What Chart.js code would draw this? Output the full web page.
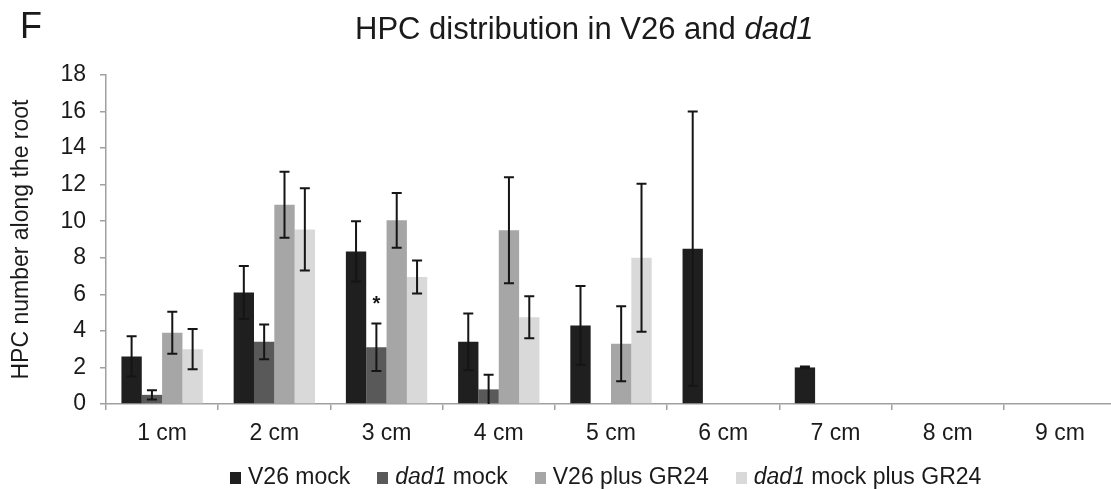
<!DOCTYPE html>
<html>
<head>
<meta charset="utf-8">
<script src="https://cdn.jsdelivr.net/npm/chart.js@4.4.1/dist/chart.umd.min.js"></script>
<style>
  html, body { margin: 0; padding: 0; background: #fff; overflow: hidden; }
  body { width: 1111px; height: 489px; position: relative; font-family: "Liberation Sans", Arial, sans-serif; color: #1a1a1a; }
  #wrap { position: absolute; left: 0; top: 0; width: 1120px; height: 489px; }
  #panel { position: absolute; left: 20px; top: 8px; font-size: 36px; line-height: 36px; }
  #title { position: absolute; left: 355px; top: 13px; font-size: 31px; line-height: 31px; white-space: nowrap; }
  #legend { position: absolute; left: 230px; top: 465px; display: flex; align-items: center; font-size: 23px; line-height: 23px; white-space: nowrap; }
  #legend .item { display: flex; align-items: center; margin-right: 27px; }
  #legend .box { width: 11px; height: 12px; margin-right: 7px; margin-top: 2px; }
</style>
</head>
<body>
<div id="wrap"><canvas id="hpcChart"></canvas></div>
<div id="panel">F</div>
<div id="title">HPC distribution in V26 and <i>dad1</i></div>
<div id="legend"></div>

<script>
// categories and series
var categories = ['1 cm', '2 cm', '3 cm', '4 cm', '5 cm', '6 cm', '7 cm', '8 cm', '9 cm'];

var v26Mock      = [2.6, 6.1, 8.35, 3.4, 4.3, 8.5, 2.0, null, null];
var v26MockErr   = [1.1, 1.45, 1.65, 1.55, 2.15, 7.5, 0.05, 0, 0];
var dad1Mock     = [0.5, 3.4, 3.1, 0.8, null, null, null, null, null];
var dad1MockErr  = [0.25, 0.95, 1.3, 0.8, 0, 0, 0, 0, 0];
var v26Gr24      = [3.9, 10.9, 10.05, 9.5, 3.3, null, null, null, null];
var v26Gr24Err   = [1.15, 1.8, 1.5, 2.9, 2.05, 0, 0, 0, 0];
var dad1Gr24     = [3.0, 9.55, 6.95, 4.75, 8.0, null, null, null, null];
var dad1Gr24Err  = [1.1, 2.25, 0.9, 1.15, 4.05, 0, 0, 0, 0];

var seriesNames  = ['V26 mock', '<i>dad1</i> mock', 'V26 plus GR24', '<i>dad1</i> mock plus GR24'];
var seriesColors = ['#1f1f1f', '#595959', '#a6a6a6', '#d9d9d9'];

var yTicks = [0, 2, 4, 6, 8, 10, 12, 14, 16, 18];

// significance marks: category index, dataset index
var marks = [{ cat: 2, set: 1, text: '*' }];

var errors = [v26MockErr, dad1MockErr, v26Gr24Err, dad1Gr24Err];
var FONT = '"Liberation Sans", Arial, sans-serif';

// error bars + asterisk, drawn from scale values
var errorBarPlugin = {
  id: 'errorBars',
  afterDatasetsDraw: function(chart) {
    var ctx = chart.ctx;
    var y = chart.scales.y;
    ctx.save();
    ctx.strokeStyle = '#151515';
    ctx.lineWidth = 2;
    chart.data.datasets.forEach(function(ds, i) {
      var meta = chart.getDatasetMeta(i);
      meta.data.forEach(function(bar, j) {
        var v = ds.data[j];
        var e = errors[i][j];
        if (v == null || !e) return;
        var top = y.getPixelForValue(v + e);
        var bot = y.getPixelForValue(Math.max(0, v - e));
        ctx.beginPath();
        ctx.moveTo(bar.x, top); ctx.lineTo(bar.x, bot);
        ctx.moveTo(bar.x - 5, top); ctx.lineTo(bar.x + 5, top);
        if (v - e > 0) { ctx.moveTo(bar.x - 5, bot); ctx.lineTo(bar.x + 5, bot); }
        ctx.stroke();
      });
    });
    ctx.fillStyle = '#151515';
    ctx.font = 'bold 20px ' + FONT;
    ctx.textAlign = 'center';
    ctx.textBaseline = 'alphabetic';
    marks.forEach(function(m) {
      var bar = chart.getDatasetMeta(m.set).data[m.cat];
      var v = chart.data.datasets[m.set].data[m.cat] + errors[m.set][m.cat];
      ctx.fillText(m.text, bar.x, y.getPixelForValue(v) - 14);
    });
    ctx.restore();
  }
};

// html legend (italic gene names)
var legendEl = document.getElementById('legend');
seriesNames.forEach(function(name, i) {
  var item = document.createElement('div');
  item.className = 'item';
  item.innerHTML = '<span class="box" style="background:' + seriesColors[i] + '"></span><span>' + name + '</span>';
  legendEl.appendChild(item);
});

var ctx = document.getElementById('hpcChart').getContext('2d');
new Chart(ctx, {
  type: 'bar',
  data: {
    labels: categories,
    datasets: [v26Mock, dad1Mock, v26Gr24, dad1Gr24].map(function(d, i) {
      return {
        label: seriesNames[i].replace(/<\/?i>/g, ''),
        data: d,
        backgroundColor: seriesColors[i],
        borderWidth: 0,
        categoryPercentage: 0.725,
        barPercentage: 1.0
      };
    })
  },
  options: {
    responsive: true,
    maintainAspectRatio: false,
    animation: false,
    layout: { padding: { left: 0, right: 4, top: 75, bottom: 35 } },
    plugins: {
      legend: { display: false },
      title: { display: false },
      tooltip: { enabled: false }
    },
    scales: {
      x: {
        grid: { drawOnChartArea: false, offset: true, tickLength: 6, color: '#a0a0a0', lineWidth: 1.5 },
        border: { color: '#a0a0a0', width: 1.5 },
        ticks: { color: '#1a1a1a', padding: 10, font: { family: FONT, size: 23 } },
        afterFit: function(scale) { scale.height = 50; }
      },
      y: {
        min: 0,
        max: 18,
        afterBuildTicks: function(scale) { scale.ticks = yTicks.map(function(v) { return { value: v }; }); },
        grid: { drawOnChartArea: false, tickLength: 6, color: '#a0a0a0', lineWidth: 1.5 },
        border: { color: '#a0a0a0', width: 1.5 },
        ticks: { color: '#1a1a1a', padding: 14, font: { family: FONT, size: 23 } },
        title: {
          display: true,
          text: 'HPC number along the root',
          color: '#1a1a1a',
          padding: { top: 8, bottom: 0 },
          font: { family: FONT, size: 23 }
        },
        afterFit: function(scale) { scale.width = 106; }
      }
    }
  },
  plugins: [errorBarPlugin]
});
</script>
</body>
</html>
